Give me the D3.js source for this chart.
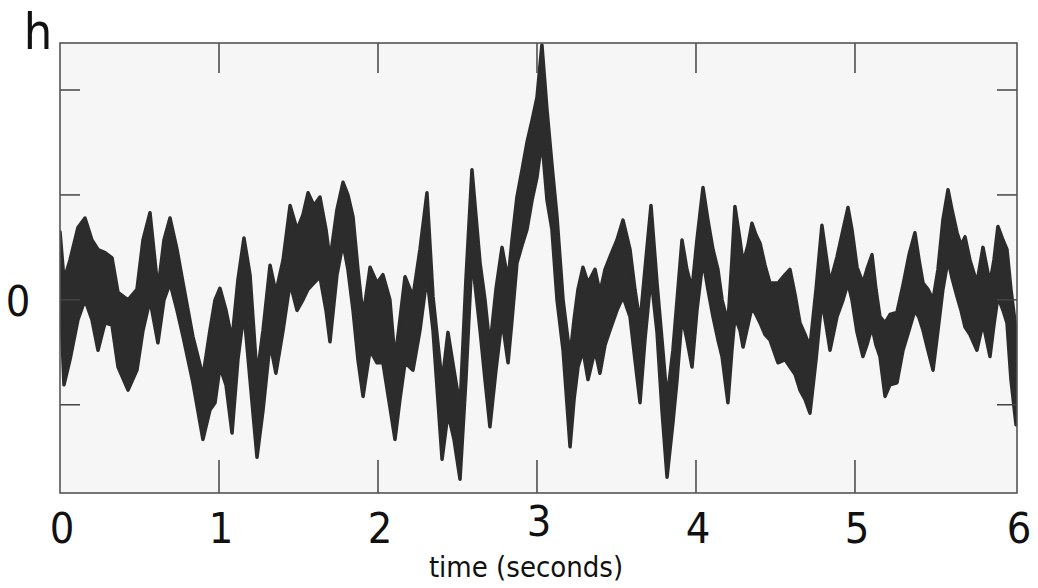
<!DOCTYPE html>
<html>
<head>
<meta charset="utf-8">
<script src="https://cdn.jsdelivr.net/npm/d3@7"></script>
<style>
  html, body { margin: 0; padding: 0; background: #ffffff; }
  svg { display: block; }
  text { font-family: "Liberation Sans Narrow", "DejaVu Sans Condensed", "Liberation Sans", sans-serif; fill: #111; }
</style>
</head>
<body>
<svg id="chart" width="1038" height="588"></svg>
<script>
// time (seconds) of each sample
const times = [0,0.025,0.063,0.113,0.157,0.201,0.239,0.283,0.327,0.365,0.428,0.484,0.522,0.566,0.616,0.654,0.692,0.736,0.774,0.836,0.899,0.943,0.975,1.006,1.044,1.082,1.119,1.157,1.195,1.239,1.277,1.321,1.358,1.403,1.447,1.491,1.528,1.560,1.597,1.635,1.673,1.698,1.742,1.780,1.811,1.843,1.874,1.906,1.950,1.994,2.031,2.075,2.107,2.138,2.170,2.220,2.264,2.308,2.346,2.403,2.440,2.478,2.516,2.553,2.591,2.642,2.673,2.704,2.742,2.780,2.818,2.843,2.874,2.906,2.937,2.969,3.000,3.031,3.063,3.094,3.126,3.164,3.208,3.233,3.258,3.289,3.321,3.365,3.396,3.428,3.459,3.503,3.541,3.585,3.616,3.648,3.679,3.717,3.755,3.786,3.818,3.855,3.881,3.912,3.943,3.975,4.006,4.044,4.075,4.107,4.138,4.164,4.201,4.226,4.245,4.277,4.296,4.327,4.352,4.377,4.403,4.434,4.465,4.516,4.560,4.591,4.623,4.654,4.686,4.717,4.755,4.792,4.818,4.843,4.887,4.925,4.956,4.981,5.013,5.050,5.075,5.107,5.132,5.157,5.189,5.220,5.264,5.302,5.340,5.377,5.403,5.428,5.459,5.491,5.522,5.553,5.585,5.610,5.642,5.667,5.692,5.723,5.767,5.805,5.849,5.874,5.899,5.931,5.956,5.981,6.013];
// upper envelope of the noisy signal h (tick spacing = 1 unit)
const hUpper = [0.65,0.19,0.38,0.69,0.78,0.57,0.48,0.45,0.40,0.07,0.00,0.10,0.57,0.83,0.10,0.57,0.78,0.48,0.16,-0.35,-0.73,-0.29,0.00,0.11,-0.10,-0.38,0.19,0.59,0.24,-0.73,-0.29,0.33,0.07,0.38,0.90,0.67,0.81,1.02,0.90,0.98,0.67,0.38,0.86,1.12,1.00,0.79,0.29,-0.16,0.31,0.16,0.24,0.00,-0.57,-0.19,0.22,0.03,0.48,1.02,0.03,-0.79,-0.31,-0.67,-1.02,0.19,1.24,0.35,0.00,-0.45,0.10,0.50,0.19,0.57,0.98,1.24,1.50,1.71,1.93,2.43,1.81,1.29,0.79,0.00,-0.54,-0.19,0.10,0.31,0.16,0.29,0.07,0.29,0.41,0.57,0.76,0.48,0.10,-0.22,0.29,0.90,0.16,-0.38,-0.95,-0.48,0.00,0.57,0.29,0.10,0.57,1.07,0.76,0.48,0.29,0.00,-0.22,0.38,0.89,0.57,0.35,0.52,0.73,0.62,0.54,0.33,0.16,0.16,0.24,0.29,0.05,-0.22,-0.33,-0.45,0.10,0.71,0.43,0.16,0.41,0.67,0.88,0.67,0.31,0.16,0.29,0.43,0.10,-0.16,-0.22,-0.14,-0.12,0.14,0.43,0.64,0.38,0.16,0.10,0.00,0.29,0.76,1.05,0.86,0.64,0.52,0.60,0.38,0.16,0.50,0.16,0.38,0.70,0.57,0.48,0.10,-0.29];
// lower envelope of the noisy signal h
const hLower = [0.10,-0.81,-0.57,-0.19,0.00,-0.19,-0.48,-0.22,-0.24,-0.64,-0.86,-0.67,-0.29,0.00,-0.41,0.00,0.16,-0.10,-0.35,-0.79,-1.33,-1.05,-0.98,-0.64,-0.81,-1.27,-0.57,-0.12,-0.76,-1.50,-1.05,-0.41,-0.70,-0.29,0.16,-0.10,0.00,0.10,0.16,0.22,-0.10,-0.40,0.24,0.54,0.29,-0.10,-0.57,-0.92,-0.48,-0.60,-0.60,-1.02,-1.33,-0.95,-0.60,-0.67,-0.29,0.22,-0.29,-1.52,-1.08,-1.33,-1.71,-0.76,0.41,-0.29,-0.76,-1.21,-0.67,-0.19,-0.60,-0.19,0.35,0.52,0.67,0.95,1.17,1.52,0.95,0.67,0.00,-0.48,-1.40,-0.95,-0.64,-0.48,-0.76,-0.48,-0.70,-0.43,-0.29,-0.10,0.03,-0.16,-0.57,-0.98,-0.38,0.22,-0.31,-1.05,-1.69,-1.17,-0.76,-0.16,-0.38,-0.64,-0.10,0.38,0.10,-0.16,-0.38,-0.54,-0.98,-0.48,-0.16,-0.29,-0.45,-0.24,-0.07,-0.14,-0.22,-0.33,-0.38,-0.60,-0.57,-0.64,-0.71,-0.86,-0.95,-1.08,-0.57,0.00,-0.24,-0.48,-0.16,0.00,0.16,0.00,-0.31,-0.54,-0.43,-0.26,-0.43,-0.54,-0.92,-0.81,-0.79,-0.48,-0.29,-0.10,-0.17,-0.29,-0.48,-0.67,-0.29,0.10,0.38,0.21,0.03,-0.10,-0.26,-0.33,-0.48,-0.22,-0.54,-0.24,0.03,-0.10,-0.22,-0.76,-1.19];

const xTicks = [1, 2, 3, 4, 5];
const xTickLabels = ["0", "1", "2", "3", "4", "5", "6"];
const yTicks = [-1, 0, 1, 2];
const yLabel = "0";
const xTitle = "time (seconds)";
const yTitle = "h";

const svg = d3.select("#chart");
const mLeft = 60, mRight = 1017, mTop = 43, mBottom = 493;

const x = d3.scaleLinear().domain([0, 6.019]).range([mLeft, mRight]);
const y = d3.scaleLinear().domain([-1.841, 2.448]).range([mBottom, mTop]);

// plot background
svg.append("rect")
  .attr("x", mLeft).attr("y", mTop)
  .attr("width", mRight - mLeft).attr("height", mBottom - mTop)
  .attr("fill", "#f6f6f6");

const n = Math.min(times.length, hUpper.length, hLower.length);
const data = times.slice(0, n).map((t, i) => ({ t, hi: hUpper[i], lo: hLower[i] }));

svg.append("clipPath").attr("id", "plotClip")
  .append("rect")
  .attr("x", mLeft).attr("y", mTop)
  .attr("width", mRight - mLeft).attr("height", mBottom - mTop);

const area = d3.area()
  .x(d => x(d.t))
  .y0(d => y(d.lo))
  .y1(d => y(d.hi))
  .curve(d3.curveLinear);

svg.append("path")
  .datum(data)
  .attr("clip-path", "url(#plotClip)")
  .attr("d", area)
  .attr("fill", "#2c2c2c")
  .attr("stroke", "#2c2c2c")
  .attr("stroke-width", 3.5)
  .attr("stroke-linejoin", "round");

// ticks (inward) on all four sides
const tickG = svg.append("g").attr("stroke", "#444").attr("stroke-width", 1.5);
xTicks.forEach(v => {
  tickG.append("line").attr("x1", x(v)).attr("x2", x(v)).attr("y1", mBottom).attr("y2", mBottom - 33);
  tickG.append("line").attr("x1", x(v)).attr("x2", x(v)).attr("y1", mTop).attr("y2", mTop + 30);
});
yTicks.forEach(v => {
  tickG.append("line").attr("x1", mLeft).attr("x2", mLeft + 20).attr("y1", y(v)).attr("y2", y(v));
  tickG.append("line").attr("x1", mRight).attr("x2", mRight - 20).attr("y1", y(v)).attr("y2", y(v));
});

// frame
svg.append("rect")
  .attr("x", mLeft).attr("y", mTop)
  .attr("width", mRight - mLeft).attr("height", mBottom - mTop)
  .attr("fill", "none")
  .attr("stroke", "#555")
  .attr("stroke-width", 1.6);

// x tick labels
xTickLabels.forEach((lab, i) => {
  svg.append("text")
    .attr("x", x(i) + (i === 6 ? 5 : 2))
    .attr("y", i === 3 ? 536 : 543)
    .attr("text-anchor", "middle")
    .attr("font-size", 43)
    .text(lab);
});

// x title
svg.append("text")
  .attr("x", 526).attr("y", 577)
  .attr("text-anchor", "middle")
  .attr("font-size", 29)
  .attr("fill", "#222")
  .text(xTitle);

// y labels
svg.append("text")
  .attr("x", 18).attr("y", y(0) + 16)
  .attr("text-anchor", "middle")
  .attr("font-size", 43)
  .text(yLabel);

svg.append("text")
  .attr("x", 38).attr("y", 49)
  .attr("text-anchor", "middle")
  .attr("font-size", 50)
  .text(yTitle);
</script>
</body>
</html>
